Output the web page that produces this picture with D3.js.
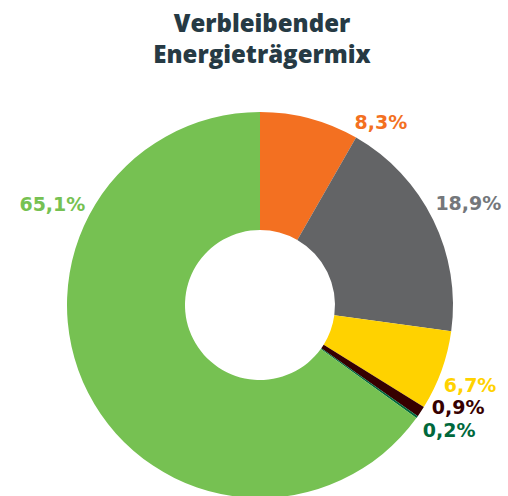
<!DOCTYPE html>
<html><head><meta charset="utf-8">
<script src="https://cdn.jsdelivr.net/npm/d3@7"></script>
<style>html,body{margin:0;padding:0;background:#fff;}svg{display:block;}</style>
</head><body>
<svg id="chart" width="508" height="496"></svg>
<script>
const categories = ["A","B","C","D","E","F"];
const values = [8.3, 18.9, 6.7, 0.9, 0.2, 65.1];
const labels = ["8,3%","18,9%","6,7%","0,9%","0,2%","65,1%"];
const sliceColors = ["#f37021","#636466","#ffd200","#360000","#00683c","#76c152"];
const labelColors = ["#f37021","#74777b","#ffd200","#360000","#00683c","#76c152"];
// label placement (angle in degrees, radius) - layout only
const labelAngle = [33.5, 63.9, 111.0, 117.3, 123.6, 296];
const labelRadius = [219, 232, 225, 223, 227, 231];

const svg = d3.select("#chart");
const cx = 260, cy = 305, rOuter = 193, rInner = 75;

svg.append("text").attr("x", 262).attr("y", 32).attr("text-anchor","middle")
  .attr("font-family","Open Sans").attr("font-weight",800).attr("font-size",24)
  .attr("fill","#263a44").text("Verbleibender");
svg.append("text").attr("x", 262).attr("y", 63).attr("text-anchor","middle")
  .attr("font-family","Open Sans").attr("font-weight",800).attr("font-size",24)
  .attr("fill","#263a44").text("Energieträgermix");

const pie = d3.pie().sort(null).value(d => d)(values);
const arc = d3.arc().innerRadius(rInner).outerRadius(rOuter);
const g = svg.append("g").attr("transform", `translate(${cx},${cy})`);
g.selectAll("path").data(pie).join("path")
  .attr("d", arc).attr("fill", (d,i) => sliceColors[i]);

g.selectAll("text.lbl").data(pie).join("text").attr("class","lbl")
  .attr("x", (d,i) => labelRadius[i]*Math.sin(labelAngle[i]*Math.PI/180))
  .attr("y", (d,i) => -labelRadius[i]*Math.cos(labelAngle[i]*Math.PI/180))
  .attr("dy","0.36em").attr("text-anchor","middle")
  .attr("font-family","DejaVu Sans").attr("font-weight","bold").attr("font-size",19)
  .attr("fill", (d,i) => labelColors[i]).text((d,i) => labels[i]);
</script>
</body></html>
